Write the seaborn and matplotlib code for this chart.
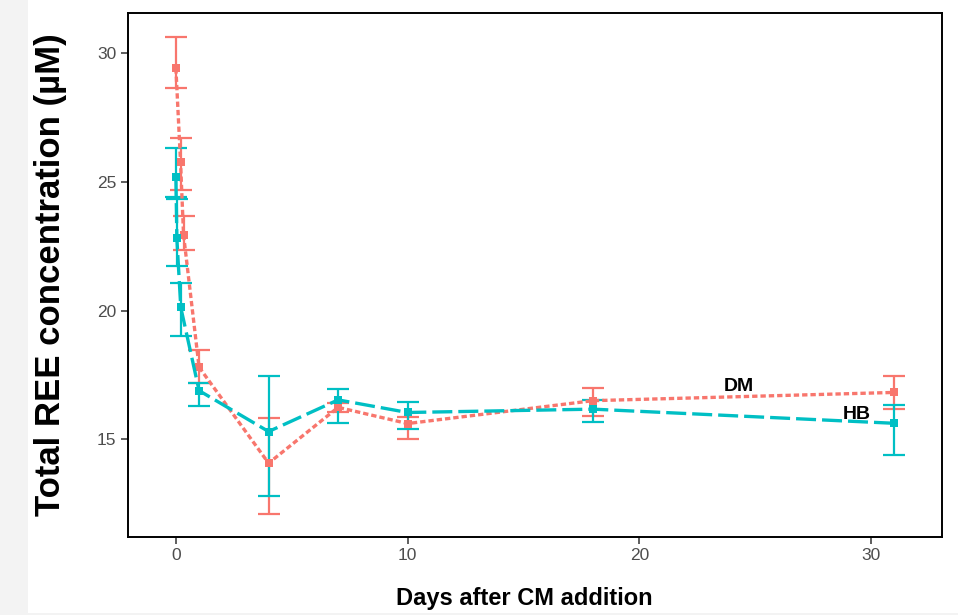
import numpy as np
import pandas as pd
import matplotlib
matplotlib.use("Agg")
import matplotlib.pyplot as plt
import seaborn as sns
from matplotlib.patches import Rectangle

# ---- data ----
dm_days  = [0, 0.20, 0.33, 1, 4, 7, 10, 18, 31]
dm_mean  = [29.42, 25.77, 22.95, 17.80, 14.07, 16.24, 15.61, 16.50, 16.82]
dm_upper = [30.62, 26.72, 23.66, 18.47, 15.82, 16.42, 15.88, 16.98, 17.44]
dm_lower = [28.64, 24.67, 22.36, 17.17, 12.09, 16.05, 15.00, 15.92, 16.17]

hb_days  = [0, 0.04, 0.21, 1, 4, 7, 10, 18, 31]
hb_mean  = [25.19, 22.83, 20.13, 16.89, 15.30, 16.53, 16.04, 16.17, 15.62]
hb_upper = [26.33, 24.32, 21.06, 17.20, 17.47, 16.95, 16.43, 16.52, 16.34]
hb_lower = [24.40, 21.75, 19.03, 16.30, 12.80, 15.63, 15.40, 15.68, 14.38]

x_ticks = [0, 10, 20, 30]
y_ticks = [15, 20, 25, 30]
x_title = "Days after CM addition"
y_title = "Total REE concentration (\u00b5M)"

RED = "#F8766D"
TEAL = "#00BFC4"

sns.set_style("ticks")
plt.rcParams["font.family"] = ["Liberation Sans", "DejaVu Sans"]

fig = plt.figure(figsize=(9.58, 6.15), dpi=100)
fig.patch.set_facecolor("#f3f3f3")
fig.add_artist(Rectangle((28 / 958, 2.5 / 615), 930 / 958, 612.5 / 615,
                         transform=fig.transFigure, facecolor="white",
                         edgecolor="none", zorder=-10))
ax = fig.add_axes([127.7 / 958, 1 - 537 / 615, (942 - 127.7) / 958, (537 - 13) / 615])
ax.set_facecolor("white")

series = [
    ("DM", dm_days, dm_mean, dm_upper, dm_lower, RED, (0, (1.6, 0.9))),
    ("HB", hb_days, hb_mean, hb_upper, hb_lower, TEAL, (0, (6, 1.8))),
]

for name, d, m, u, l, col, ls in series:
    m_arr = np.array(m); u_arr = np.array(u); l_arr = np.array(l)
    ax.errorbar(d, m_arr, yerr=[m_arr - l_arr, u_arr - m_arr], fmt="none",
                ecolor=col, elinewidth=1.6, capsize=8, capthick=1.6, zorder=2)

for name, d, m, u, l, col, ls in series:
    df = pd.DataFrame({"day": d, "conc": m})
    sns.lineplot(data=df, x="day", y="conc", ax=ax, color=col, lw=2.4,
                 linestyle=ls, marker="s", markersize=6, markeredgewidth=0,
                 zorder=3, legend=False)

ax.text(24.3, 17.04, "DM", fontsize=14, fontweight="bold", ha="center", va="center", color="black")
ax.text(29.4, 15.98, "HB", fontsize=14, fontweight="bold", ha="center", va="center", color="black")

ax.set_xlim(-2.08, 33.06)
ax.set_ylim(11.20, 31.57)
ax.set_xticks(x_ticks)
ax.set_yticks(y_ticks)
ax.tick_params(axis="both", labelsize=12.5, labelcolor="#4D4D4D", color="#333333",
               length=5, width=1.1, pad=3)
for s in ax.spines.values():
    s.set_visible(True)
    s.set_color("black")
    s.set_linewidth(1.4)

ax.set_xlabel(x_title, fontsize=17, fontweight="bold", color="black")
ax.set_ylabel(y_title, fontsize=25, fontweight="bold", color="black")
ax.xaxis.set_label_coords(0.487, -0.095)
ax.yaxis.set_label_coords(-0.0745, 0.5)

fig.savefig("out.png", dpi=100, facecolor=fig.get_facecolor())
